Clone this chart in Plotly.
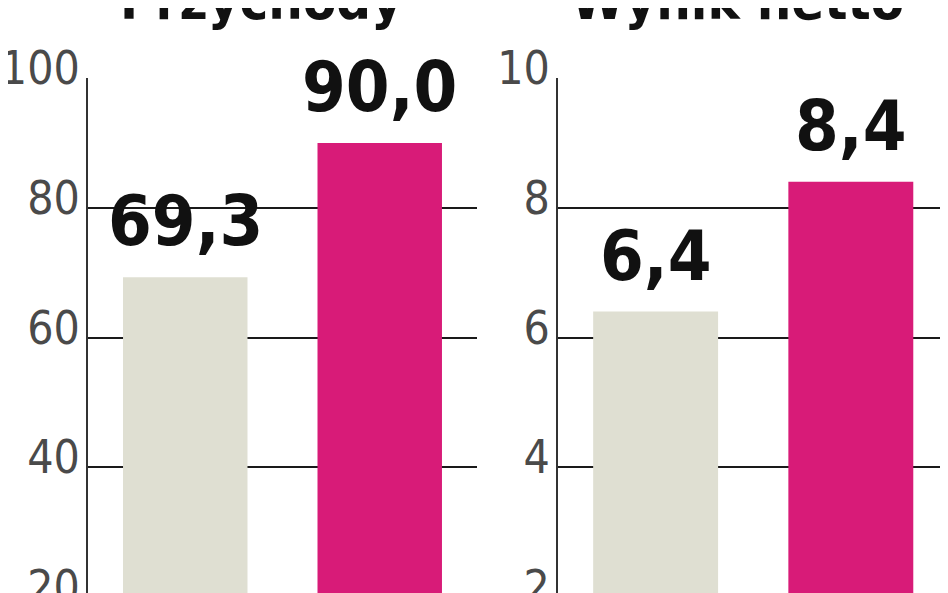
import plotly.graph_objects as go
from plotly.subplots import make_subplots

# data
years = ["2009", "2010"]
przychody = [69.3, 90.0]
wynik_netto = [6.4, 8.4]
bar_colors = ["#dfdfd2", "#d81b78"]
titles = ["Przychody", "Wynik netto"]

BOLD = "Liberation Sans Narrow, DejaVu Sans Condensed, sans-serif"
THIN = "Liberation Sans Narrow, DejaVu Sans Condensed, sans-serif"


def fmt(v):
    return f"{v:.1f}".replace(".", ",")


fig = make_subplots(rows=1, cols=2, horizontal_spacing=0.0)

for col, vals in enumerate([przychody, wynik_netto], start=1):
    fig.add_trace(go.Bar(
        x=[0, 1],
        y=vals,
        width=0.64,
        marker=dict(color=bar_colors, line=dict(width=0)),
        hoverinfo="skip",
        showlegend=False,
    ), row=1, col=col)
    xref = "x" if col == 1 else "x2"
    yref = "y" if col == 1 else "y2"
    for i, v in enumerate(vals):
        fig.add_annotation(
            x=i, y=v, xref=xref, yref=yref,
            text=fmt(v), showarrow=False,
            xanchor="center", yanchor="bottom", yshift=13,
            font=dict(family=BOLD, size=70, color="#111111", weight="bold"),
        )

# panel titles, cut by the top edge like in the original
for x, t in zip([0.267, 0.770], titles):
    fig.add_annotation(
        x=x, y=1, xref="paper", yref="paper",
        text=t, showarrow=False, xanchor="center", yanchor="bottom", yshift=44,
        font=dict(family=BOLD, size=54, color="#111111", weight="bold"),
    )

axis_common = dict(
    showgrid=True, gridcolor="#1a1a1a", gridwidth=2,
    showline=True, linecolor="#333333", linewidth=2,
    ticks="", ticklabelstandoff=-3, ticklabelshift=-10, automargin=False,
    ticklabeloverflow="allow",
    tickfont=dict(family=THIN, size=46, color="#4a4a4a"),
    zeroline=False, fixedrange=True,
)
fig.update_yaxes(range=[20, 100], dtick=20, row=1, col=1, **axis_common)
fig.update_yaxes(range=[2, 10], dtick=2, row=1, col=2, **axis_common)
fig.update_xaxes(range=[-0.5, 1.5], showticklabels=False, showgrid=False,
                 zeroline=False, showline=False, fixedrange=True,
                 automargin=False)
fig.update_layout(
    xaxis=dict(domain=[0.0844, 0.4947]),
    xaxis2=dict(domain=[0.5802, 0.992]),
    width=948, height=593,
    margin=dict(l=0, r=0, t=70, b=4),
    plot_bgcolor="white", paper_bgcolor="white",
    showlegend=False,
)

fig.write_html("out.html")
